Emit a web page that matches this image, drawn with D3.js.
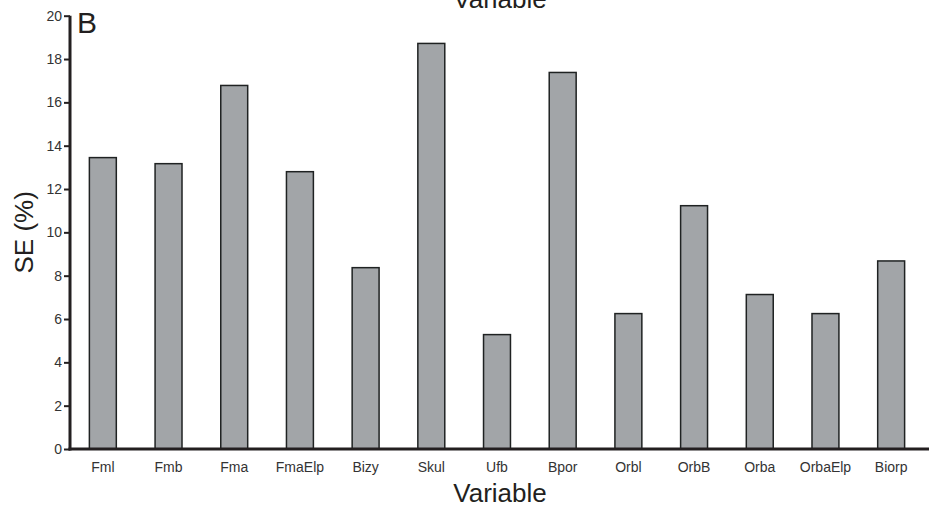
<!DOCTYPE html>
<html><head><meta charset="utf-8">
<script src="https://cdn.jsdelivr.net/npm/d3@7"></script>
<style>body{margin:0;background:#fff}svg{display:block;font-family:"Liberation Sans",Arial,sans-serif}</style>
</head><body><div id="chart"></div>
<script>
const categories = ["Fml","Fmb","Fma","FmaElp","Bizy","Skul","Ufb","Bpor","Orbl","OrbB","Orba","OrbaElp","Biorp"];
const seValues = [13.45, 13.17, 16.78, 12.8, 8.37, 18.72, 5.28, 17.38, 6.25, 11.23, 7.13, 6.25, 8.68];
const yTicks = [0,2,4,6,8,10,12,14,16,18,20];

const W = 929, H = 514;
const svg = d3.select("#chart").append("svg").attr("width", W).attr("height", H);
const x0 = 70, x1 = 924, yBase = 449, yTop = 15.7;
const x = d3.scaleBand().domain(categories).range([x0, x1]).padding(0);
const y = d3.scaleLinear().domain([0, 20]).range([yBase, yTop]);
const barW = x.bandwidth() * 0.41;
const ink = "#231f20";

svg.append("g").selectAll("rect").data(categories).join("rect")
  .attr("x", (d) => x(d) + x.bandwidth()/2 - barW/2)
  .attr("y", (d,i) => y(seValues[i]))
  .attr("width", barW)
  .attr("height", (d,i) => yBase - y(seValues[i]))
  .attr("fill", "#a2a5a8")
  .attr("stroke", "#1f2222")
  .attr("stroke-width", 1.5);

// y axis
const ya = svg.append("g").attr("transform", `translate(${x0},0)`)
  .call(d3.axisLeft(y).tickValues(yTicks).tickSize(6).tickPadding(2).tickFormat(d3.format("d")));
ya.attr("font-size", 14).attr("font-family", "Liberation Sans, Arial, sans-serif");
ya.select(".domain").attr("stroke", ink).attr("stroke-width", 3).attr("d", `M0,${yBase+1.5}V${yTop}`);
ya.selectAll(".tick line").attr("stroke", ink).attr("stroke-width", 2);
ya.selectAll(".tick text").attr("fill", "#333");

// x axis
const xa = svg.append("g").attr("transform", `translate(0,${yBase})`)
  .call(d3.axisBottom(x).tickSize(0).tickPadding(13));
xa.attr("font-size", 14).attr("font-family", "Liberation Sans, Arial, sans-serif");
xa.select(".domain").attr("stroke", ink).attr("stroke-width", 3).attr("d", `M${x0-1.5},0H${W}`);
xa.selectAll(".tick text").attr("fill", "#333");

svg.append("text").attr("x", 500).attr("y", 502).attr("text-anchor", "middle")
  .attr("font-size", 26).attr("fill", ink).text("Variable");
svg.append("text").attr("x", 500).attr("y", 8).attr("text-anchor", "middle")
  .attr("font-size", 26).attr("fill", ink).text("Variable");
svg.append("text").attr("transform", `translate(33,${(yBase+yTop)/2}) rotate(-90)`).attr("text-anchor", "middle")
  .attr("font-size", 26).attr("fill", ink).text("SE (%)");
svg.append("text").attr("x", 77).attr("y", 33).attr("font-size", 30).attr("fill", ink).text("B");
</script></body></html>
